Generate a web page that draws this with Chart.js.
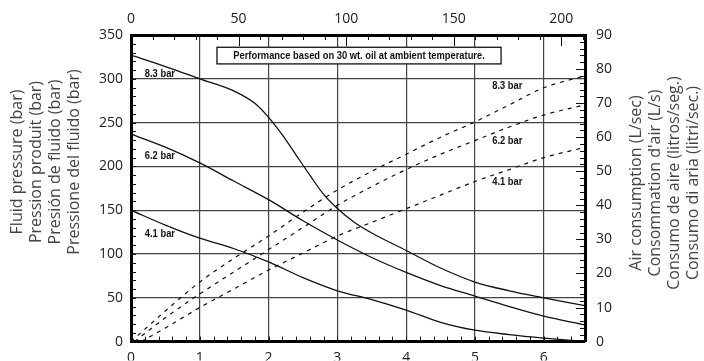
<!DOCTYPE html>
<html lang="en">
<head>
<meta charset="UTF-8">
<title>Pump performance chart</title>
<script src="https://cdn.jsdelivr.net/npm/chart.js"></script>
<style>
  body { margin: 0; background: #fff; }
  #wrap { width: 704px; height: 361px; }
</style>
</head>
<body>
<div id="wrap"><canvas id="perf" width="704" height="361"></canvas></div>
<script>
// fluid flow (bottom axis) vs fluid pressure (left axis), one per air pressure
const flow83 = [0, 0.5, 1, 1.5, 1.8, 2, 2.2, 2.4, 2.6, 2.8, 3, 3.25, 3.5, 4, 4.5, 5, 5.5, 6, 6.6];
const press83 = [327, 314, 300, 286, 272, 256, 236, 213, 190, 168, 152, 136, 124, 104, 84, 68, 58, 50, 41];
const flow62 = [0, 0.5, 1, 1.5, 2, 2.5, 3, 3.5, 4, 4.5, 5, 5.5, 6, 6.6];
const press62 = [237, 222, 204, 183, 162, 138, 116, 96, 79, 64, 52, 40, 29, 19];
const flow41 = [0, 0.5, 1, 1.5, 2, 2.5, 3, 3.5, 4, 4.5, 5, 5.5, 6, 6.6];
const press41 = [150, 133, 118, 106, 91, 73, 58, 48, 36, 22, 13, 8, 4, 0];

// fluid flow vs air consumption (right axis)
const airFlow83 = [0, 0.5, 1, 1.5, 2, 2.5, 3, 3.5, 4, 4.5, 5, 5.5, 6, 6.6];
const air83 = [0, 9, 17.5, 24.5, 31, 38, 44.5, 50, 55, 60, 64.5, 69.5, 74.5, 78];
const airFlow62 = [0.05, 0.5, 1, 1.5, 2, 2.5, 3, 3.5, 4, 4.5, 5, 5.5, 6, 6.6];
const air62 = [0, 7, 14, 20.5, 27, 33.5, 40, 45.5, 50.5, 55, 59, 63, 66.5, 69.5];
const airFlow41 = [0.15, 0.5, 1, 1.5, 2, 2.5, 3, 3.5, 4, 4.5, 5, 5.5, 6, 6.6];
const air41 = [0, 4, 10, 15.5, 21, 26, 31, 35, 39, 43, 47, 50.5, 54, 57];

// tick labels
const bottomTicks = [0, 1, 2, 3, 4, 5, 6];
const topTicks = [0, 50, 100, 150, 200];
const leftTicks = [0, 50, 100, 150, 200, 250, 300, 350];
const rightTicks = [0, 10, 20, 30, 40, 50, 60, 70, 80, 90];

const barLabels = ['8.3 bar', '6.2 bar', '4.1 bar'];
const pressLabelY = [305, 212, 123];
const airLabelY = [75, 59, 47];
const noteText = 'Performance based on 30 wt. oil at ambient temperature.';

const leftTitle = ['Fluid pressure (bar)', 'Pression produit (bar)', 'Presión de fluido (bar)', 'Pressione del fluido (bar)'];
const rightTitle = ['Air consumption (L/sec)', "Consommation d'air (L/s)", 'Consumo de aire (litros/seg.)', 'Consumo di aria (litri/sec.)'];

const FONT = '"Open Sans", "Liberation Sans", Arial, sans-serif';
const BOLD = '"Liberation Sans", Arial, sans-serif';

function pts(xs, ys) {
  return xs.map((x, i) => ({ x: x, y: ys[i] }));
}

function curve(xs, ys, axis, dashed) {
  return {
    data: pts(xs, ys),
    yAxisID: axis,
    borderColor: '#111',
    borderWidth: dashed ? 1.2 : 1.3,
    borderDash: dashed ? [4, 5] : [],
    pointRadius: 0,
    fill: false,
    cubicInterpolationMode: 'monotone'
  };
}

function fixTicks(values) {
  return function (scale) {
    scale.ticks = values.map(v => ({ value: v }));
  };
}

// inward tick marks, note box, curve labels, rotated axis titles
const decor = {
  id: 'decor',
  beforeDatasetsDraw(chart) {
    const ctx = chart.ctx;
    const x = chart.scales.x, y = chart.scales.y;
    const l = x.getPixelForValue(1.25), r = x.getPixelForValue(5.38);
    const t = y.getPixelForValue(336), b = y.getPixelForValue(317);
    ctx.save();
    ctx.fillStyle = '#fff';
    ctx.fillRect(l, t, r - l, b - t);
    ctx.strokeStyle = '#111';
    ctx.lineWidth = 1.3;
    ctx.strokeRect(l, t, r - l, b - t);
    ctx.fillStyle = '#111';
    ctx.font = 'bold 11px ' + BOLD;
    ctx.textAlign = 'center';
    ctx.textBaseline = 'middle';
    ctx.translate((l + r) / 2, (t + b) / 2 + 0.5);
    ctx.scale(0.85, 1);
    ctx.fillText(noteText, 0, 0);
    ctx.restore();
  },
  afterDatasetsDraw(chart) {
    const ctx = chart.ctx;
    const a = chart.chartArea;
    const { x, x2, y, y2 } = chart.scales;
    ctx.save();
    ctx.strokeStyle = '#111';
    ctx.lineWidth = 1;
    ctx.beginPath();
    for (let v = 0.2; v < 6.6; v += 0.2) {
      const px = Math.round(x.getPixelForValue(v)) + 0.5;
      ctx.moveTo(px, a.bottom);
      ctx.lineTo(px, a.bottom - 5);
    }
    for (let v = 10; v < 350; v += 10) {
      const py = Math.round(y.getPixelForValue(v)) + 0.5;
      ctx.moveTo(a.left, py);
      ctx.lineTo(a.left + 5, py);
    }
    for (let v = 10; v < 211; v += 10) {
      const px = Math.round(x2.getPixelForValue(v)) + 0.5;
      ctx.moveTo(px, a.top);
      ctx.lineTo(px, a.top + (v % 50 === 0 ? 11 : 5));
    }
    for (let v = 2; v < 90; v += 2) {
      const py = Math.round(y2.getPixelForValue(v)) + 0.5;
      ctx.moveTo(a.right, py);
      ctx.lineTo(a.right - (v % 10 === 0 ? 9 : 5), py);
    }
    ctx.stroke();

    ctx.fillStyle = '#111';
    ctx.font = 'bold 11px ' + BOLD;
    ctx.textAlign = 'center';
    ctx.textBaseline = 'middle';
    barLabels.forEach((txt, i) => {
      [[0.42, y.getPixelForValue(pressLabelY[i])], [5.47, y2.getPixelForValue(airLabelY[i])]].forEach(p => {
        ctx.save();
        ctx.translate(x.getPixelForValue(p[0]), p[1]);
        ctx.scale(0.85, 1);
        ctx.fillText(txt, 0, 0);
        ctx.restore();
      });
    });
    ctx.restore();
  },
  afterDraw(chart) {
    const ctx = chart.ctx;
    ctx.save();
    ctx.fillStyle = '#444';
    ctx.font = '16px ' + FONT;
    ctx.textAlign = 'center';
    ctx.textBaseline = 'middle';
    leftTitle.forEach((txt, i) => {
      ctx.save();
      ctx.translate(17 + i * 19, 162);
      ctx.rotate(-Math.PI / 2);
      ctx.fillText(txt, 0, 0);
      ctx.restore();
    });
    rightTitle.forEach((txt, i) => {
      ctx.save();
      ctx.translate(636 + i * 19.3, 183);
      ctx.rotate(-Math.PI / 2);
      ctx.fillText(txt, 0, 0);
      ctx.restore();
    });
    ctx.restore();
  }
};

const tickFont = { family: FONT, size: 14 };
const axisBorder = { display: true, width: 3, color: '#000' };

new Chart(document.getElementById('perf'), {
  type: 'line',
  data: {
    datasets: [
      curve(flow83, press83, 'y', false),
      curve(flow62, press62, 'y', false),
      curve(flow41, press41, 'y', false),
      curve(airFlow83, air83, 'y2', true),
      curve(airFlow62, air62, 'y2', true),
      curve(airFlow41, air41, 'y2', true)
    ]
  },
  options: {
    responsive: false,
    animation: false,
    layout: { padding: 0 },
    plugins: { legend: { display: false }, tooltip: { enabled: false } },
    scales: {
      x: {
        type: 'linear', position: 'bottom', min: 0, max: 6.6,
        afterBuildTicks: fixTicks(bottomTicks),
        afterFit: s => { s.height = 19; },
        grid: { color: '#444', lineWidth: 1.2, drawTicks: false },
        border: axisBorder,
        ticks: { font: tickFont, color: '#222', padding: 8, maxRotation: 0 }
      },
      x2: {
        type: 'linear', position: 'top', min: 0, max: 211,
        afterBuildTicks: fixTicks(topTicks),
        afterFit: s => { s.height = 35; },
        grid: { display: false, drawTicks: false },
        border: axisBorder,
        ticks: { font: tickFont, color: '#222', padding: 8, maxRotation: 0 }
      },
      y: {
        type: 'linear', position: 'left', min: 0, max: 350,
        afterBuildTicks: fixTicks(leftTicks),
        afterFit: s => { s.width = 131; },
        grid: { color: '#444', lineWidth: 1.2, drawTicks: false },
        border: axisBorder,
        ticks: { font: tickFont, color: '#222', padding: 8 }
      },
      y2: {
        type: 'linear', position: 'right', min: 0, max: 90,
        afterBuildTicks: fixTicks(rightTicks),
        afterFit: s => { s.width = 119; },
        grid: { display: false, drawTicks: false },
        border: axisBorder,
        ticks: { font: tickFont, color: '#222', padding: 11 }
      }
    }
  },
  plugins: [decor]
});
</script>
</body>
</html>
